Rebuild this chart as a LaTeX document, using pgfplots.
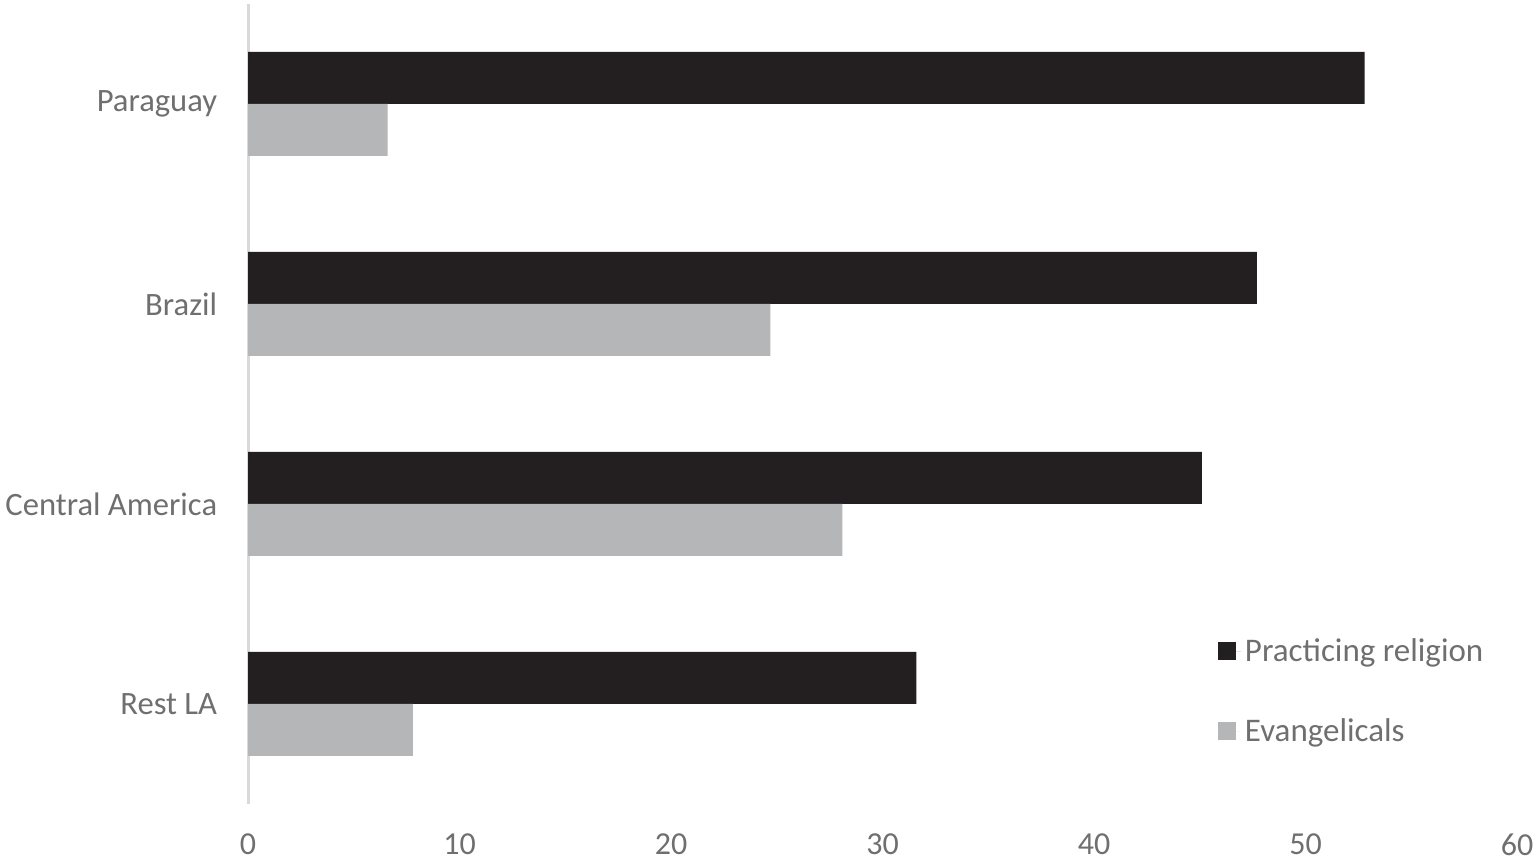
\documentclass[border=0pt]{standalone}
\usepackage{fontspec}
\setmainfont{Carlito}
\usepackage{pgfplots}
\pgfplotsset{compat=1.18}
\definecolor{barblack}{HTML}{231F20}
\definecolor{bargray}{HTML}{B5B6B8}
\definecolor{txtgray}{HTML}{6F6F6F}
\definecolor{linegray}{HTML}{D9D9D9}
\begin{document}
\begin{tikzpicture}
\useasboundingbox (0,0) rectangle (768.5pt,433.5pt);
\begin{axis}[
    at={(124pt,31.5pt)}, anchor=south west,
    scale only axis,
    width=634.5pt, height=400pt,
    xbar,
    bar width=26pt,
    xmin=0, xmax=60,
    ymin=-0.5, ymax=3.5,
    xtick={0,10,...,60},
    ytick={0,1,2,3},
    yticklabels={Rest LA,Central America,Brazil,Paraguay},
    axis x line*=bottom,
    axis y line*=left,
    x axis line style={draw=none},
    y axis line style={draw=linegray, line width=1.5pt},
    tick style={draw=none},
    /pgf/number format/assume math mode=true,
    xticklabel style={font=\fontsize{16}{19}\selectfont, text=txtgray, inner sep=0pt, anchor=north, yshift=-14.5pt},
    yticklabel style={font=\fontsize{16.3}{20}\selectfont, text=txtgray, inner sep=0pt, anchor=east, xshift=-11pt},
    legend style={draw=none, fill=none, at={(0.7593,0.141)}, anchor=west,
        font=\fontsize{16.5}{20}\selectfont, text=txtgray, row sep=23pt},
    legend cell align=left,
    legend image code/.code={\fill[#1] (0pt,-4.5pt) rectangle (9pt,4.5pt);
        \path (0pt,0pt) -- (11.5pt,0pt);},
]
\addplot[draw=none, fill=barblack, bar shift=13pt] coordinates {
    (52.8,3) (47.7,2) (45.1,1) (31.6,0)
};
\addplot[draw=none, fill=bargray, bar shift=-13pt] coordinates {
    (6.6,3) (24.7,2) (28.1,1) (7.8,0)
};
\legend{Practicing religion, Evangelicals}
\end{axis}
\end{tikzpicture}
\end{document}
